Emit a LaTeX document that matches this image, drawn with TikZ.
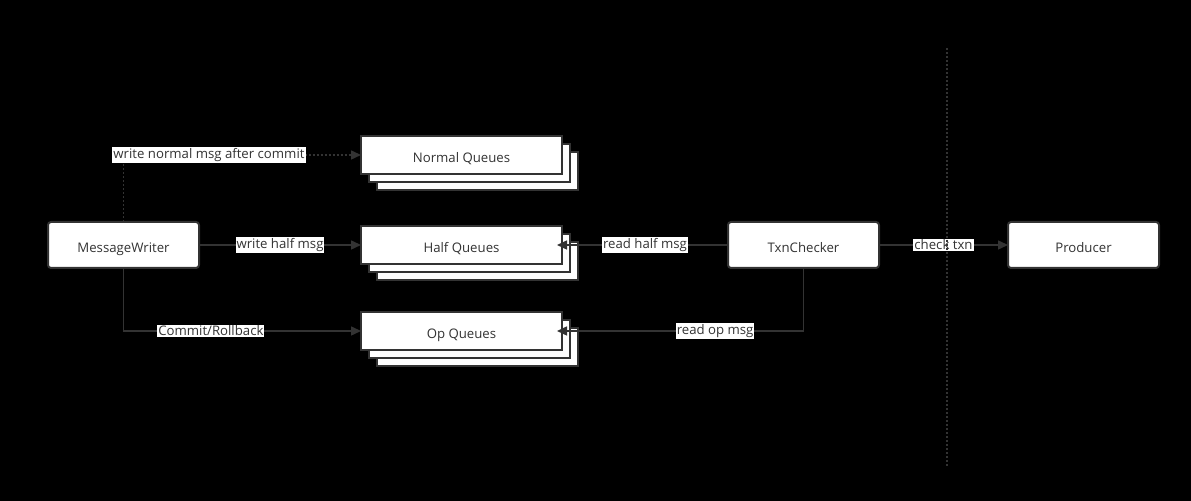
\documentclass[tikz,border=0pt]{standalone}
\usepackage{fontspec}
\setmainfont{Open Sans}
\usetikzlibrary{arrows.meta,positioning,shadows}
\definecolor{linegray}{HTML}{333333}

\begin{document}
\begin{tikzpicture}[x=0.5pt,y=-0.5pt,>={Triangle[length=5pt,width=4.5pt]},
                    line width=0.75pt,color=linegray,
                    font=\fontsize{6.6}{7.5}\selectfont,
                    box/.style={draw,fill=white,rounded corners=1.5pt,line width=1pt,
                                outer sep=0pt,minimum width=75.5pt,minimum height=23pt,
                                text height=0.72em,text depth=0pt},
                    queue/.style={draw,fill=white,line width=1pt,outer sep=0pt,
                                  minimum width=100.5pt,minimum height=19pt,
                                  text height=0.72em,text depth=0pt,
                                  copy shadow={shadow xshift=8pt,shadow yshift=-8pt},
                                  copy shadow={shadow xshift=4pt,shadow yshift=-4pt}},
                    lbl/.style={fill=white,inner xsep=0.5pt,inner ysep=0.5pt},
                    dots/.style={dash pattern=on 1pt off 1pt}]

  \useasboundingbox[fill=black] (0,0) rectangle (1191,501);

  \node[box] (mw) at (123.5,245)         {MessageWriter};
  \node[queue] (half) [right=81pt of mw]  {Half Queues};
  \node[queue] (normal) [above=26pt of half] {Normal Queues};
  \node[queue] (op) [below=24pt of half]  {Op Queues};
  \node[box] (txn) [right=83pt of half]   {TxnChecker};
  \node[box] (prod) [right=64.5pt of txn] {Producer};

  \draw[->,dots] (mw.north) |- node[lbl,pos=0.68] {write normal msg after commit} (normal.west);
  \draw[->] (mw) -- node[lbl] {write half msg} (half);
  \draw[->] (mw.south) |- node[lbl,pos=0.684] {Commit/Rollback} (op.west);
  \draw[->,shorten >=-2.5pt] (txn) -- node[lbl] {read half msg} (half);
  \draw[->,shorten >=-2.5pt] (txn.south) |- node[lbl,pos=0.683] {read op msg} (op.east);
  \draw[->] (txn) -- node[lbl] {check txn} (prod);

  % divider
  \draw[dots] (947,48) -- (947,468);

\end{tikzpicture}
\end{document}
